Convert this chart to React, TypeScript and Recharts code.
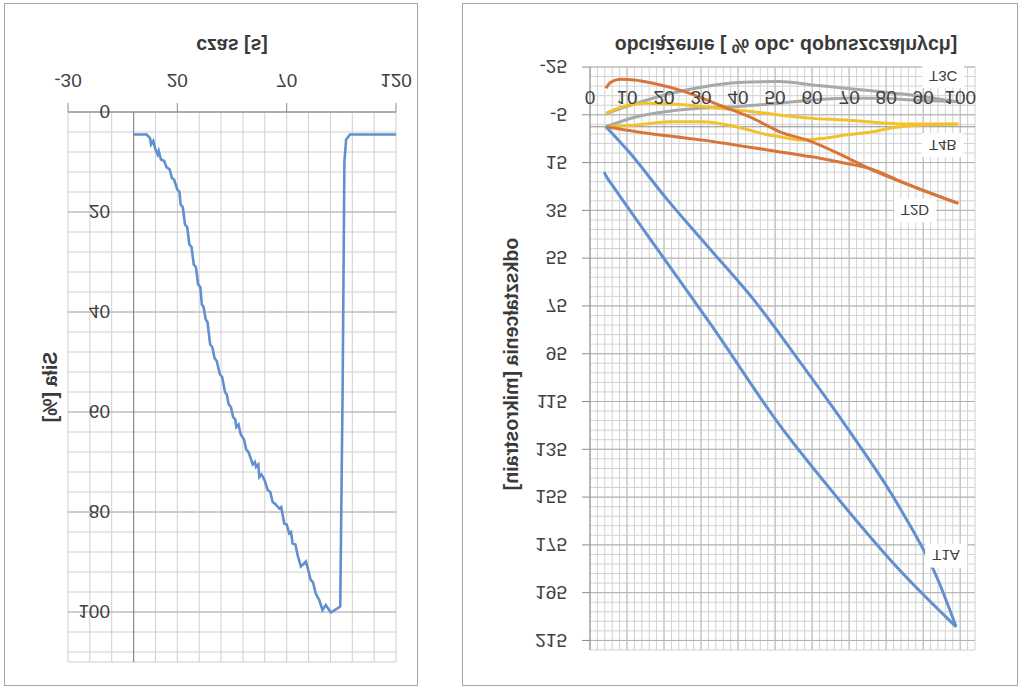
import React from 'react';
import { LineChart, Line, XAxis, YAxis, CartesianGrid, ReferenceLine, ReferenceDot } from 'recharts';

const FONT = '"Liberation Sans", Arial, sans-serif';
const TXT = '#404040';

// ---------- left chart: force vs time ----------
const czas = [0, 6, 7.5, 8, 9, 10, 11, 11.5, 12.5, 14, 15, 16.5, 17.5, 18.5, 20, 21, 21.5, 22.5, 23.5, 24.5, 25.5, 26.5, 27.5, 28.5, 29.5, 30.5, 31.2, 32, 33, 33.8, 35, 36, 37, 38, 39.5, 40.5, 41.8, 42.6, 43.5, 44.5, 45.5, 46.5, 47, 48, 49, 50.5, 51.5, 52.5, 53.6, 54.5, 55.5, 56, 57, 57.5, 58.5, 59.8, 61.3, 62.5, 63.6, 65, 66.6, 67.5, 68.9, 70, 71.2, 72, 72.7, 74, 75, 76.5, 78.8, 79.5, 81, 82, 83.3, 84.9, 86.4, 87.9, 90.2, 94.5, 95.6, 96.4, 97.2, 99, 120];
const sila = [4.5, 4.5, 5.2, 6.5, 5.8, 7.5, 8.5, 7.8, 9.5, 9.8, 11, 11.5, 13.2, 13.5, 15.5, 16, 18.5, 19, 22.5, 23, 26.5, 27, 30.5, 31, 34.5, 35, 38.5, 39, 41.5, 42, 46.5, 47, 49.2, 49.8, 52.5, 53, 56, 56.5, 58.5, 59, 61, 61.5, 63, 62.5, 64.5, 65.5, 67.5, 68, 69.3, 70.5, 70, 71, 70.5, 73, 72.5, 73.5, 75.6, 76, 78, 78.5, 79.3, 79, 82.3, 82.5, 84.3, 84, 86.3, 86.5, 88.6, 90.9, 89.9, 91, 93.6, 94, 96.3, 97.6, 99.6, 98.6, 100.1, 98.9, 55, 10, 5.5, 4.5, 4.5];
const leftTimeTicks = [-30, 20, 70, 120];
const leftForceTicks = [0, 20, 40, 60, 80, 100];
const leftTimeGrid = [-30, -20, -10, 0, 10, 20, 30, 40, 50, 60, 70, 80, 90, 100, 110, 120];
const leftForceGrid = [0, 4, 8, 12, 16, 20, 24, 28, 32, 36, 40, 44, 48, 52, 56, 60, 64, 68, 72, 76, 80, 84, 88, 92, 96, 100, 104, 108, 110];

// ---------- right chart: strain vs load ----------
const loadTicks = [0, 10, 20, 30, 40, 50, 60, 70, 80, 90, 100];
const strainTicks = [-25, -5, 15, 35, 55, 75, 95, 115, 135, 155, 175, 195, 215];
const loadGrid = Array.from({ length: 53 }, (_, i) => i * 2);
const strainGrid = Array.from({ length: 62 }, (_, i) => -25 + i * 4);

const obcT1A_up = [4.3, 10.8, 20.6, 32.3, 44.8, 56.5, 69.9, 83.3, 94.1, 98.9];
const odkT1A_up = [0, 11, 30, 51, 73.5, 98, 127, 158.5, 190, 209.3];
const obcT1A_dn = [98.9, 83.3, 67.2, 51.1, 33.1, 24.2, 15.2, 6.3, 4.5, 3.8];
const odkT1A_dn = [209.3, 185, 156, 124.6, 83.8, 64.3, 44.7, 25.1, 21, 19];

const obcT2D_up = [4.3, 12.6, 21.5, 30.5, 39.4, 48.4, 53.8, 60, 69, 75.3, 85.1, 99.5];
const odkT2D_up = [0, 2.1, 3.9, 5.6, 7.7, 9.8, 11.1, 12.6, 15.3, 17.4, 23.7, 32.1];
const obcT2D_dn = [99.5, 85.1, 76.2, 69, 60, 51.1, 44, 35, 26, 17, 12, 8.1, 5.5, 4.3];
const odkT2D_dn = [32.1, 23.7, 18.1, 12.6, 6.3, 2, -3.5, -9, -14.5, -18.2, -19.6, -19.9, -18.5, -16.1];

const obcT4B_up = [4.3, 12.6, 21.5, 30.5, 39.4, 48.4, 53.8, 56.5, 62.7, 69, 76.2, 82.4, 89.6, 99.5];
const odkT4B_up = [0, -0.7, -2.1, -2.1, 0, 3.5, 4.9, 5.6, 4.9, 3.5, 2.1, 0.3, -0.7, -1.1];
const obcT4B_dn = [99.5, 86.9, 78, 69, 60, 51.1, 43.9, 35, 26, 15.2, 8, 4.3];
const odkT4B_dn = [-1.1, -1.1, -1.7, -2.8, -3.5, -4.9, -6.3, -7.7, -9.1, -9.8, -8, -5.6];

const obcT3C_up = [4.3, 12.6, 21.5, 30.5, 40, 51, 60, 69, 78, 86.9, 99.5];
const odkT3C_up = [0, -4.2, -6.5, -7.8, -8.5, -9.8, -11.2, -11.9, -11.9, -11.2, -10.5];
const obcT3C_dn = [99.5, 95.9, 86.9, 78, 69, 60, 51, 40, 30, 22, 15, 8, 4.3];
const odkT3C_dn = [-10.5, -11.2, -13.3, -14.7, -16.1, -17.5, -18.9, -18.5, -16.5, -14, -11, -7.5, -5.5];

const seriesNames = ['T1A', 'T2D', 'T4B', 'T3C'];
const labelLoad = [96.2, 87.8, 95.3, 95.4];
const labelStrain = [179.5, 35, 7.7, -21.2];

const BLUE = '#6090d0';
const ORANGE = '#d8763a';
const YELLOW = '#f2c12c';
const GRAY = '#a8a8a8';

const zip = (xs: number[], ys: number[]) => xs.map((x, i) => ({ x, y: ys[i] }));

const tickStyle = { fill: TXT, fontSize: 19, fontFamily: FONT };

const LoadLabel = (text: string) => (props: any) => (
  <text x={props.cx} y={props.cy + 29} dy="0.35em" textAnchor="middle" fill={TXT} fontSize={19} fontFamily={FONT}>
    {text}
  </text>
);

const SeriesLabel = (text: string) => (props: any) => (
  <g>
    <rect x={props.cx - 21} y={props.cy - 12} width={42} height={24} fill="#ffffff" />
    <text x={props.cx} y={props.cy} dy="0.35em" textAnchor="middle" fill={TXT} fontSize={15} fontFamily={FONT}>
      {text}
    </text>
  </g>
);

const titleStyle: React.CSSProperties = {
  position: 'absolute',
  whiteSpace: 'nowrap',
  fontFamily: FONT,
  fontWeight: 'bold',
  fontSize: 19.5,
  color: '#3a3a3a',
  lineHeight: 1,
};

const rightSeries = [
  { xs: obcT3C_up, ys: odkT3C_up, c: GRAY },
  { xs: obcT3C_dn, ys: odkT3C_dn, c: GRAY },
  { xs: obcT4B_up, ys: odkT4B_up, c: YELLOW },
  { xs: obcT4B_dn, ys: odkT4B_dn, c: YELLOW },
  { xs: obcT2D_up, ys: odkT2D_up, c: ORANGE },
  { xs: obcT2D_dn, ys: odkT2D_dn, c: ORANGE },
  { xs: obcT1A_up, ys: odkT1A_up, c: BLUE },
  { xs: obcT1A_dn, ys: odkT1A_dn, c: BLUE },
];

export default function App() {
  return (
    <div
      style={{
        position: 'absolute',
        left: 0,
        top: 0,
        width: 1024,
        height: 690,
        background: '#ffffff',
        transform: 'scaleY(-1)',
        overflow: 'hidden',
      }}
    >
      {/* panel frames */}
      <div style={{ position: 'absolute', left: 4, top: 4, width: 414, height: 683, border: '1.5px solid #a6a6a6', boxSizing: 'border-box' }} />
      <div style={{ position: 'absolute', left: 462, top: 4, width: 556, height: 683, border: '1.5px solid #a6a6a6', boxSizing: 'border-box' }} />

      {/* left chart */}
      <div style={{ position: 'absolute', left: 0, top: 0 }}>
        <LineChart width={420} height={690} margin={{ top: 28, right: 24, bottom: 62, left: 8 }}>
          <CartesianGrid stroke="#cfcfcf" strokeWidth={1} verticalValues={leftTimeGrid} horizontalValues={leftForceGrid} />
          <XAxis
            type="number"
            dataKey="x"
            domain={[-30, 120]}
            ticks={leftTimeTicks}
            interval={0}
            height={50}
            axisLine={{ stroke: '#8c8c8c' }}
            tickLine={{ stroke: '#8c8c8c' }}
            tickSize={9}
            tickMargin={16}
            tick={tickStyle}
          />
          <YAxis
            type="number"
            domain={[0, 110]}
            ticks={leftForceTicks}
            interval={0}
            width={60}
            axisLine={false}
            tickLine={false}
            tickSize={0}
            tickMargin={-42}
            tick={tickStyle}
          />
          {leftForceTicks.map((v) => (
            <ReferenceLine key={'lf' + v} y={v} stroke="#b4b4b4" strokeWidth={1} />
          ))}
          <ReferenceLine x={0} stroke="#8c8c8c" strokeWidth={1.2} />
          <Line data={zip(czas, sila)} dataKey="y" type="linear" stroke={BLUE} strokeWidth={2.6} dot={false} isAnimationActive={false} />
        </LineChart>
      </div>

      {/* right chart */}
      <div style={{ position: 'absolute', left: 440, top: 0 }}>
        <LineChart width={584} height={690} margin={{ top: 40, right: 49, bottom: 66, left: 8 }}>
          <XAxis
            type="number"
            dataKey="x"
            domain={[0, 104]}
            ticks={loadTicks}
            interval={0}
            height={1}
            axisLine={false}
            tickLine={false}
            tick={false}
          />
          <YAxis
            type="number"
            domain={[-25, 219]}
            ticks={strainTicks}
            interval={0}
            width={142}
            axisLine={{ stroke: '#9a9a9a' }}
            tickLine={{ stroke: '#8c8c8c' }}
            tickSize={8}
            tickMargin={15}
            tick={tickStyle}
          />
          {loadGrid.map((v) => (
            <ReferenceLine key={'gx' + v} x={v} stroke="#d2d2d2" strokeWidth={1} />
          ))}
          {strainGrid.map((v) => (
            <ReferenceLine key={'gy' + v} y={v} stroke="#d2d2d2" strokeWidth={1} />
          ))}
          {strainTicks.map((v) => (
            <ReferenceLine key={'rs' + v} y={v} stroke="#b0b0b0" strokeWidth={1} />
          ))}
          {loadTicks.map((v) => (
            <ReferenceLine key={'rl' + v} x={v} stroke="#bdbdbd" strokeWidth={1} />
          ))}
          <ReferenceLine y={0} stroke="#8c8c8c" strokeWidth={1.2} />
          {rightSeries.map((s, i) => (
            <Line
              key={'s' + i}
              data={zip(s.xs, s.ys)}
              dataKey="y"
              type="monotone"
              stroke={s.c}
              strokeWidth={3}
              dot={false}
              isAnimationActive={false}
            />
          ))}
          {loadTicks.map((v) => (
            <ReferenceDot key={'lt' + v} x={v} y={0} r={0} shape={LoadLabel(String(v))} />
          ))}
          {seriesNames.map((n, i) => (
            <ReferenceDot key={n} x={labelLoad[i]} y={labelStrain[i]} r={0} shape={SeriesLabel(n)} />
          ))}
        </LineChart>
      </div>

      {/* axis titles */}
      <div style={{ ...titleStyle, left: 232, top: 645, transform: 'translate(-50%, -50%)' }}>czas [s]</div>
      <div style={{ ...titleStyle, left: 51, top: 303, transform: 'translate(-50%, -50%) rotate(-90deg)' }}>Siła [%]</div>
      <div style={{ ...titleStyle, left: 786, top: 645, transform: 'translate(-50%, -50%)' }}>obciążenie [ % obc. dopuszczalnych]</div>
      <div style={{ ...titleStyle, left: 512, top: 326, transform: 'translate(-50%, -50%) rotate(-90deg)' }}>odkształcenia [mikrostrain]</div>
    </div>
  );
}
